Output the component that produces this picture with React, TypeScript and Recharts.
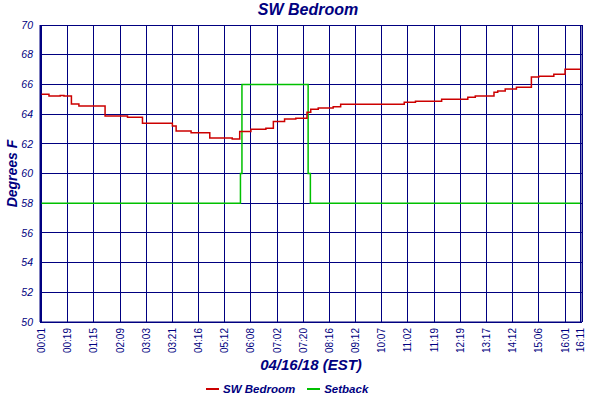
import { LineChart, Line, XAxis, YAxis, CartesianGrid, Legend } from 'recharts';

// 横軸は記録番号（0〜144）で、目盛りの時刻ラベルはその位置に付く
const TICK_INDEX = [0, 7, 14, 21, 28, 35, 42, 49, 56, 63, 70, 77, 84, 91, 98, 105, 112, 119, 126, 133, 140, 144];
const TICK_LABELS = [
  '00:01', '00:19', '01:15', '02:09', '03:03', '03:21', '04:16', '05:12', '06:08', '07:02', '07:20',
  '08:16', '09:12', '10:07', '11:02', '11:19', '12:19', '13:17', '14:12', '15:06', '16:01', '16:11',
];
const Y_TICKS = [50, 52, 54, 56, 58, 60, 62, 64, 66, 68, 70];

// 室温（SW Bedroom）の変化点
const ROOM_INDEX = [0, 2, 5, 6, 8, 10, 17, 23, 27, 35, 36, 40, 45, 51, 53, 56, 60, 62, 65, 68, 71, 72, 74, 78, 80, 97, 100, 107, 114, 116, 121, 122, 124, 127, 131, 133, 137, 140, 144];
const ROOM_TEMP = [65.33, 65.22, 65.25, 65.22, 64.68, 64.55, 63.87, 63.78, 63.38, 63.2, 62.87, 62.75, 62.39, 62.32, 62.82, 62.98, 63.04, 63.51, 63.67, 63.72, 64.12, 64.32, 64.41, 64.5, 64.66, 64.8, 64.86, 65.0, 65.13, 65.22, 65.47, 65.56, 65.69, 65.8, 66.5, 66.55, 66.68, 67.02, 67.02];

// 設定温度（Setback）
const SETBACK_INDEX = [0, 53.2, 53.2, 53.6, 53.6, 71.3, 71.3, 71.9, 71.9, 144];
const SETBACK_TEMP = [58, 58, 60, 60, 66, 66, 60, 60, 58, 58];

const NAVY = '#000080';
const RED = '#cc0000';
const GREEN = '#00c000';

const roomData = ROOM_INDEX.map((i, k) => ({ i, v: ROOM_TEMP[k] }));
const setbackData = SETBACK_INDEX.map((i, k) => ({ i, v: SETBACK_TEMP[k] }));

const XTick = (props: any) => {
  const { x, y, payload } = props;
  const label = TICK_LABELS[TICK_INDEX.indexOf(payload.value)];
  return (
    <text
      x={x}
      y={y}
      transform={`rotate(-90 ${x} ${y})`}
      textAnchor="end"
      dominantBaseline="central"
      fontSize={10}
      fontFamily="Liberation Sans"
      fill={NAVY}
    >
      {label}
    </text>
  );
};

const LegendContent = () => (
  <div style={{ display: 'flex', paddingLeft: 206, paddingTop: 6, height: 28, boxSizing: 'border-box', alignItems: 'center', fontFamily: 'Liberation Sans', fontStyle: 'italic', fontWeight: 'bold', fontSize: 11.5, color: NAVY }}>
    <span style={{ display: 'inline-block', width: 13, height: 2, background: RED, marginRight: 4 }} />
    <span style={{ marginRight: 12 }}>SW Bedroom</span>
    <span style={{ display: 'inline-block', width: 13, height: 2, background: GREEN, marginRight: 4 }} />
    <span>Setback</span>
  </div>
);

const yTickStyle = { fontSize: 10.5, fontStyle: 'italic', fontFamily: 'Liberation Sans', fill: NAVY };

export default function App() {
  return (
    <div style={{ position: 'absolute', left: 0, top: 0, width: 600, height: 400, background: '#fff' }}>
      <div style={{ position: 'absolute', left: 0, top: 0, width: 616, textAlign: 'center', fontFamily: 'Liberation Sans', fontStyle: 'italic', fontWeight: 'bold', fontSize: 16, color: NAVY, lineHeight: '20px' }}>
        SW Bedroom
      </div>
      <LineChart width={600} height={400} margin={{ top: 25, right: 0, bottom: 0, left: 0 }}>
        <CartesianGrid yAxisId="l" stroke={NAVY} strokeWidth={1} shapeRendering="crispEdges" />
        <XAxis
          dataKey="i"
          type="number"
          domain={[0, 144]}
          ticks={TICK_INDEX}
          interval={0}
          padding={{ left: 1.5, right: 2 }}
          height={50}
          tickLine={false}
          tickSize={0}
          tickMargin={6}
          tick={<XTick />}
          axisLine={{ stroke: NAVY }}
          label={{ value: '04/16/18 (EST)', position: 'insideBottom', offset: 2, fill: NAVY, fontSize: 15, fontStyle: 'italic', fontWeight: 'bold', fontFamily: 'Liberation Sans' }}
        />
        <YAxis
          yAxisId="l"
          domain={[50, 70]}
          ticks={Y_TICKS}
          interval={0}
          width={40}
          tickLine={false}
          tickSize={0}
          tickMargin={7}
          tick={yTickStyle}
          axisLine={{ stroke: NAVY }}
          label={{ value: 'Degrees F', angle: -90, position: 'center', dx: -8, fill: NAVY, fontSize: 14, fontStyle: 'italic', fontWeight: 'bold', fontFamily: 'Liberation Sans' }}
        />
        <YAxis
          yAxisId="r"
          orientation="right"
          domain={[50, 70]}
          ticks={Y_TICKS}
          interval={0}
          width={18}
          tickLine={false}
          tickSize={0}
          tickMargin={5}
          tick={yTickStyle}
          axisLine={{ stroke: NAVY }}
        />
        <Legend verticalAlign="bottom" height={28} content={<LegendContent />} />
        <Line
          yAxisId="l"
          data={setbackData}
          dataKey="v"
          name="Setback"
          type="linear"
          stroke={GREEN}
          strokeWidth={1.5}
          dot={false}
          isAnimationActive={false}
        />
        <Line
          yAxisId="l"
          data={roomData}
          dataKey="v"
          name="SW Bedroom"
          type="stepAfter"
          stroke={RED}
          strokeWidth={1.5}
          dot={false}
          isAnimationActive={false}
        />
      </LineChart>
    </div>
  );
}
